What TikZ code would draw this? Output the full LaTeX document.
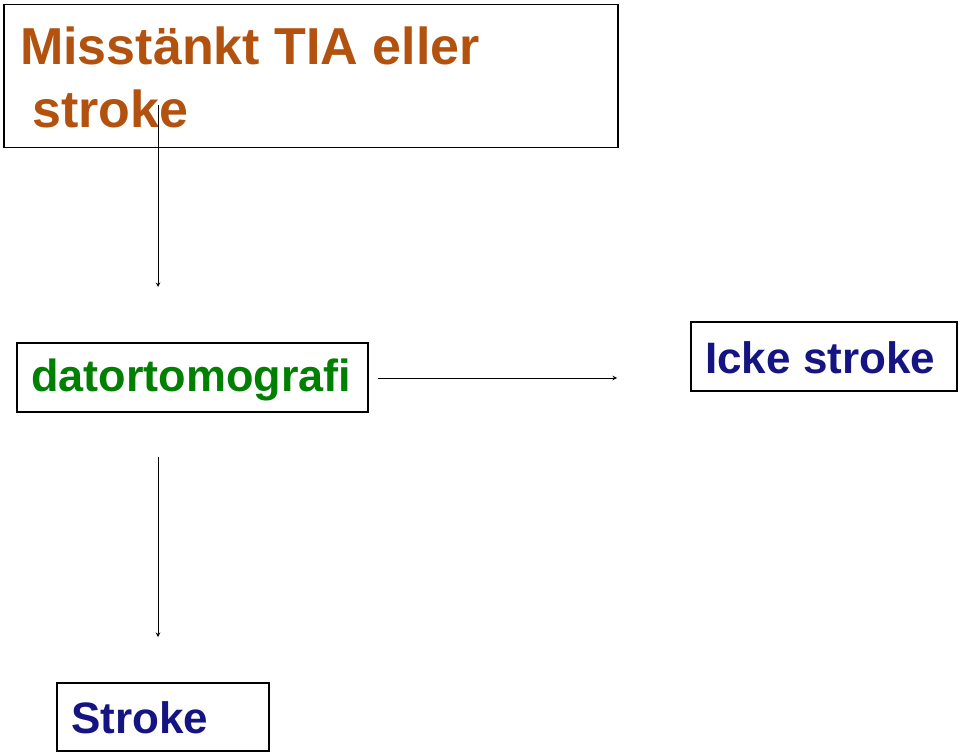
\documentclass[tikz,border=0pt]{standalone}
\usepackage{fontspec}
\setmainfont{Liberation Sans}
\definecolor{brn}{RGB}{178,82,14}
\definecolor{grn}{RGB}{0,128,0}
\definecolor{nav}{RGB}{20,20,130}
\begin{document}
\begin{tikzpicture}[x=1pt,y=-1pt,
  box/.style={draw,line width=1.5pt,anchor=north west,inner sep=0pt},
  lbl/.style={anchor=base west,inner sep=0pt,font=\bfseries\fontsize{44}{44}\selectfont},
  arr/.style={-stealth,line width=1pt}]
\useasboundingbox (0,0) rectangle (960,754);
\node[box,minimum width=614pt,minimum height=143pt] (top) at (3,4) {};
\node[lbl,text=brn,font=\bfseries\fontsize{52}{52}\selectfont] (t1) at (20,65) {Misstänkt TIA eller};
\node[lbl,text=brn,font=\bfseries\fontsize{52}{52}\selectfont] (t2) at (32,128) {stroke};
\node[box,minimum width=351pt,minimum height=69pt] (dt) at (16,342) {};
\node[lbl,text=grn,font=\bfseries\fontsize{45}{45}\selectfont] (dtt) at (31,391) {datortomografi};
\node[box,minimum width=266pt,minimum height=69pt] (ic) at (690,321) {};
\node[lbl,text=nav] (ict) at (705,373) {Icke stroke};
\node[box,minimum width=212pt,minimum height=68pt] (st) at (56,682) {};
\node[lbl,text=nav] (stt) at (71,733) {Stroke};
\coordinate (a1) at (158,105); \coordinate (b1) at (158,287);
\coordinate (a2) at (378,378); \coordinate (b2) at (617,378);
\coordinate (a3) at (158,457); \coordinate (b3) at (158,637);
\draw[arr] (a1) -- (b1);
\draw[arr] (a2) -- (b2);
\draw[arr] (a3) -- (b3);
\end{tikzpicture}
\end{document}
